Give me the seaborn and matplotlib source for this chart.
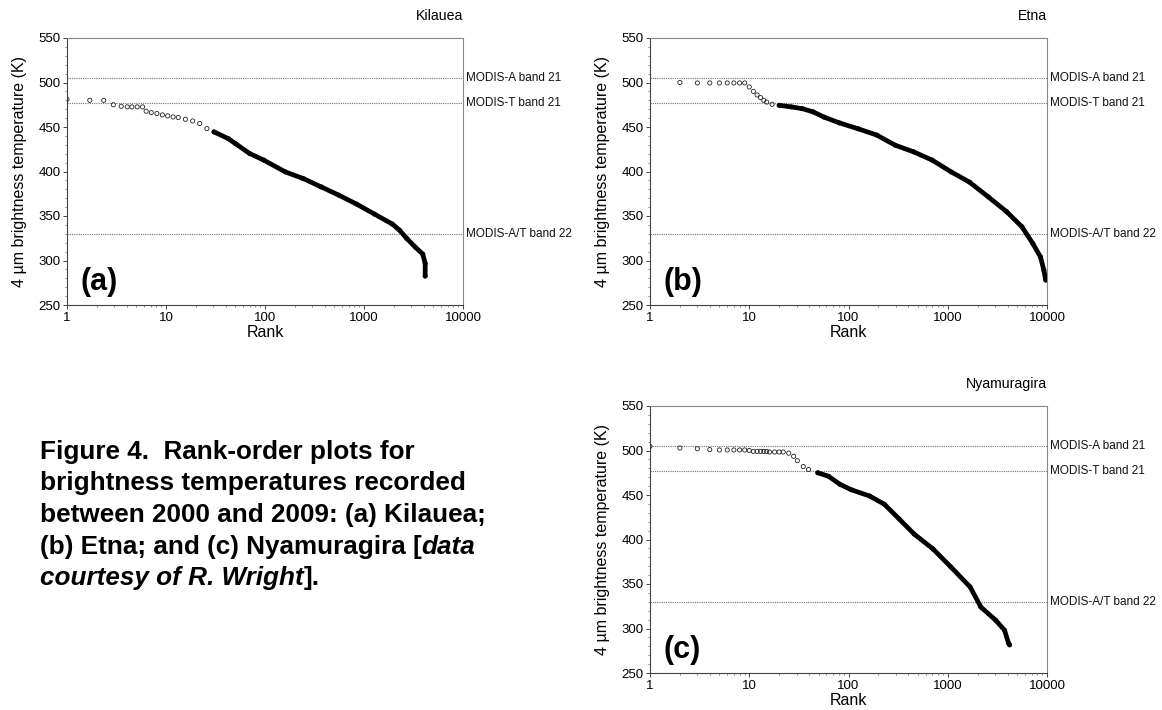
import numpy as np
import pandas as pd
import matplotlib
matplotlib.use("Agg")
import matplotlib.pyplot as plt
import matplotlib.transforms as mtransforms
from matplotlib.ticker import MultipleLocator, LogLocator, FixedLocator, FixedFormatter, NullFormatter
import seaborn as sns

# ---------------- data ----------------
kil_rank = [1, 1.7, 2.35, 2.94, 3.53, 4.06, 4.52, 5.12, 5.8, 6.3, 7.1, 8.1, 9.2, 10.4,
            11.8, 13.3, 15.7, 18.6, 21.9, 25.9, 30.5, 42.5, 50.2, 70, 97.5, 160, 243,
            368, 557, 844, 1277, 1935, 2285, 2700, 3320, 3920, 4150, 4150]
kil_temp = [481, 480, 480, 475, 473.3, 472.6, 472.6, 472.6, 472.6, 467.7, 466.2, 465.1,
            463.6, 462.5, 461.3, 460.6, 458.7, 456.8, 453.9, 448.2, 444.5, 437, 431.4,
            420.2, 412.7, 399.6, 392.1, 382.8, 373.4, 363.3, 352.1, 340.9, 334.1, 324.8,
            314.7, 307.2, 296.7, 282.5]

etna_rank = [2, 3, 4, 5, 6, 7, 8, 9, 10, 11, 12, 13, 14, 15, 17, 20, 26.5, 34, 44, 57,
             81, 125, 192, 296, 455, 700, 1080, 1660, 2560, 3930, 5580, 7200, 8600,
             9300, 9700]
etna_temp = [500, 499.5, 499.5, 499.5, 499.5, 499.5, 499.5, 499.5, 495, 490, 486, 483,
             480, 478, 475.5, 474.4, 472.6, 470.7, 467, 461, 454.6, 448, 441, 429.5,
             422, 412.7, 399.6, 388, 371.5, 354.7, 338, 319, 304, 289, 278]

nya_rank = [1, 2, 3, 4, 5, 6, 7, 8, 9, 10, 11, 12, 13, 14, 15, 16, 18, 20, 22, 25, 28,
            30.5, 35, 39.5, 49, 63, 82, 106, 163, 230, 325, 460, 710, 1080, 1680, 2160,
            3030, 3740, 4090, 4200]
nya_temp = [504.6, 502.8, 502, 501, 500.6, 500.6, 500.6, 500.6, 500.6, 500, 499, 499,
            499, 499, 499, 498.3, 498.3, 498.3, 498.3, 497, 493.5, 488.6, 482, 478.6,
            475, 471, 462, 456, 448.9, 439.6, 422.9, 406, 389.4, 368.9, 346.7, 324,
            309.5, 298, 283.5, 281.6]

panel_names = ["Kilauea", "Etna", "Nyamuragira"]
panel_tags = ["(a)", "(b)", "(c)"]
dense_from = [30, 20, 40]          # rank beyond which the points merge into a solid band

threshold_temps = [505, 477, 330]
threshold_labels = ["MODIS-A band 21", "MODIS-T band 21", "MODIS-A/T band 22"]

y_ticks = [250, 300, 350, 400, 450, 500, 550]
x_ticks = [1, 10, 100, 1000, 10000]
x_tick_labels = ["1", "10", "100", "1000", "10000"]

caption_lines = [
    [("Figure 4.  Rank-order plots for", "normal")],
    [("brightness temperatures recorded", "normal")],
    [("between 2000 and 2009: (a) Kilauea;", "normal")],
    [("(b) Etna; and (c) Nyamuragira [", "normal"), ("data", "italic")],
    [("courtesy of R. Wright", "italic"), ("].", "normal")],
]

# ---------------- style ----------------
sns.set_style("ticks")
plt.rcParams["font.family"] = ["Liberation Sans", "DejaVu Sans"]
plt.rcParams["text.color"] = "black"
plt.rcParams["axes.labelcolor"] = "black"
plt.rcParams["xtick.labelcolor"] = "black"
plt.rcParams["ytick.labelcolor"] = "black"

W, H = 1162, 710
fig = plt.figure(figsize=(W / 100, H / 100), dpi=100)
fig.patch.set_facecolor("white")

def frac(left, top, right, bottom):
    return [left / W, 1 - bottom / H, (right - left) / W, (bottom - top) / H]

boxes = [frac(67, 38, 463, 305), frac(650, 38, 1047, 305), frac(650, 406, 1047, 673)]
data = [(kil_rank, kil_temp), (etna_rank, etna_temp), (nya_rank, nya_temp)]

for i, (box, (rk, tp)) in enumerate(zip(boxes, data)):
    ax = fig.add_axes(box)
    df = pd.DataFrame({"Rank": rk, "T": tp})
    dense = df[df["Rank"] >= dense_from[i]]

    for t in threshold_temps:
        ax.axhline(t, color="#707070", ls=(0, (1, 1)), lw=0.8, zorder=1)

    sns.scatterplot(data=df, x="Rank", y="T", ax=ax, marker="o", s=9,
                    facecolor="none", edgecolor="#222222", linewidth=0.6, zorder=3)
    sns.lineplot(data=dense, x="Rank", y="T", ax=ax, color="black", lw=3.4,
                 sort=False, estimator=None, zorder=4)

    ax.set_xscale("log")
    ax.set_xlim(1, 10000)
    ax.set_ylim(250, 550)
    ax.xaxis.set_major_locator(FixedLocator(x_ticks))
    ax.xaxis.set_major_formatter(FixedFormatter(x_tick_labels))
    ax.xaxis.set_minor_locator(LogLocator(base=10, subs=np.arange(2, 10)))
    ax.xaxis.set_minor_formatter(NullFormatter())
    ax.set_yticks(y_ticks)
    ax.yaxis.set_minor_locator(MultipleLocator(10))

    ax.tick_params(axis="both", which="major", labelsize=9.5, length=3, width=0.7,
                   color="#444444", pad=1.5, direction="out")
    ax.tick_params(axis="both", which="minor", length=1.5, width=0.6, color="#777777",
                   direction="out")
    ax.tick_params(axis="x", which="major", pad=2)

    for side in ["left", "bottom"]:
        ax.spines[side].set_color("#444444")
        ax.spines[side].set_linewidth(0.8)
    for side in ["right", "top"]:
        ax.spines[side].set_visible(True)
        ax.spines[side].set_color("#888888")
        ax.spines[side].set_linewidth(0.8)

    ax.set_xlabel("Rank", fontsize=11.5, labelpad=1)
    ax.set_ylabel("4 \u00b5m brightness temperature (K)", fontsize=11.5)
    ax.yaxis.set_label_coords(-0.10, 0.5)
    ax.set_title(panel_names[i], loc="right", fontsize=10.2, pad=13)

    trans = mtransforms.blended_transform_factory(ax.transAxes, ax.transData)
    for t, lab in zip(threshold_temps, threshold_labels):
        ax.text(1.008, t, lab, transform=trans, va="center", ha="left",
                fontsize=8.5, clip_on=False, color="#111111")

    ax.text(0.033, 0.087, panel_tags[i], transform=ax.transAxes, fontsize=22,
            fontweight="bold", va="center", ha="left")

# ---------------- caption ----------------
renderer = fig.canvas.get_renderer()
x0 = 40
line_y = [452, 483, 515, 547, 578]
for parts, yc in zip(caption_lines, line_y):
    x = x0
    for txt, style in parts:
        t = fig.text(x / W, 1 - yc / H, txt, fontsize=18.8, fontweight="bold",
                     fontstyle=style, va="center", ha="left", color="black")
        bb = t.get_window_extent(renderer=renderer)
        x = x + bb.width

fig.savefig("out.png", dpi=100, facecolor="white")
